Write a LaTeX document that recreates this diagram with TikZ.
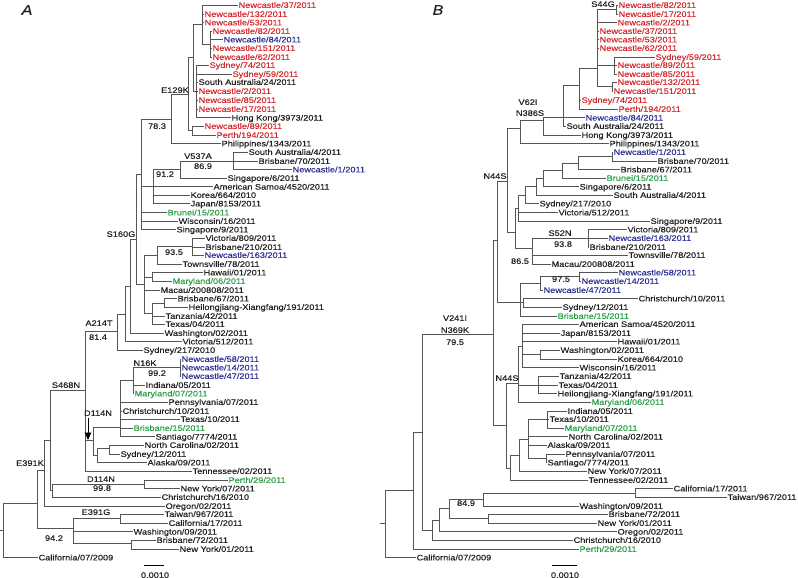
\documentclass[tikz,border=0pt]{standalone}
\usepackage{fontspec}
\setmainfont{Liberation Sans}[FakeStretch=1.15,FakeBold=0.35]
\usetikzlibrary{arrows.meta}
\definecolor{tred}{HTML}{D42A2F}
\definecolor{tblue}{HTML}{2E3192}
\definecolor{tgreen}{HTML}{2E9E48}
\definecolor{tblk}{HTML}{222222}
\definecolor{brc}{HTML}{555555}
\newcommand{\mkleaf}[5]{\node[lab,text=#4] (#1) at (#2,#3) {#5};}
\newcommand{\kids}[2]{\foreach \k in {#2}{\draw[br] (#1) |- (\k);}}
\begin{document}
\begin{tikzpicture}[x=1pt,y=-1pt,
  lab/.style={anchor=west,inner sep=0.4pt,text height=5.8pt,text depth=0pt,font=\fontsize{8}{9}\selectfont},
  mut/.style={inner sep=0.4pt,text height=5.8pt,text depth=0pt,text=tblk,font=\fontsize{8}{9}\selectfont},
  br/.style={draw=brc,line width=0.6pt},
  panel/.style={font=\fontsize{14}{14}\selectfont\itshape,text=tblk,inner sep=0pt}]
\useasboundingbox (0,0) rectangle (798,578);
\node[panel] (pA) at (27,10) {A};
\node[panel] (pB) at (438,10) {B};
% ---------------- Panel A leaves
\mkleaf{A1}{238}{5}{tred}{Newcastle/37/2011}
\mkleaf{A2}{204}{14}{tred}{Newcastle/132/2011}
\mkleaf{A3}{204}{22.5}{tred}{Newcastle/53/2011}
\mkleaf{A4}{212}{31}{tred}{Newcastle/82/2011}
\mkleaf{A5}{223}{39.5}{tblue}{Newcastle/84/2011}
\mkleaf{A6}{212}{48}{tred}{Newcastle/151/2011}
\mkleaf{A7}{212}{57}{tred}{Newcastle/62/2011}
\mkleaf{A8}{209}{65}{tred}{Sydney/74/2011}
\mkleaf{A9}{232}{74}{tred}{Sydney/59/2011}
\mkleaf{A10}{198}{82}{tblk}{South Australia/24/2011}
\mkleaf{A11}{198}{91}{tred}{Newcastle/2/2011}
\mkleaf{A12}{198}{100}{tred}{Newcastle/85/2011}
\mkleaf{A13}{198}{109}{tred}{Newcastle/17/2011}
\mkleaf{A14}{231}{117.7}{tblk}{Hong Kong/3973/2011}
\mkleaf{A15}{204}{126}{tred}{Newcastle/89/2011}
\mkleaf{A16}{216}{135}{tred}{Perth/194/2011}
\mkleaf{A17}{221}{143.5}{tblk}{Philippines/1343/2011}
\mkleaf{A18}{248}{152}{tblk}{South Australia/4/2011}
\mkleaf{A19}{258}{161}{tblk}{Brisbane/70/2011}
\mkleaf{A20}{292}{169.5}{tblue}{Newcastle/1/2011}
\mkleaf{A21}{227}{178}{tblk}{Singapore/6/2011}
\mkleaf{A22}{213}{186.7}{tblk}{American Samoa/4520/2011}
\mkleaf{A23}{190}{195}{tblk}{Korea/664/2010}
\mkleaf{A24}{190}{203.5}{tblk}{Japan/8153/2011}
\mkleaf{A25}{167}{212.5}{tgreen}{Brunei/15/2011}
\mkleaf{A26}{178}{221}{tblk}{Wisconsin/16/2011}
\mkleaf{A27}{176}{229.5}{tblk}{Singapore/9/2011}
\mkleaf{A28}{205}{238}{tblk}{Victoria/809/2011}
\mkleaf{A29}{205}{247}{tblk}{Brisbane/210/2011}
\mkleaf{A30}{204}{255}{tblue}{Newcastle/163/2011}
\mkleaf{A31}{182}{264}{tblk}{Townsville/78/2011}
\mkleaf{A32}{203}{272.5}{tblk}{Hawaii/01/2011}
\mkleaf{A33}{172}{281}{tgreen}{Maryland/06/2011}
\mkleaf{A34}{160}{290}{tblk}{Macau/200808/2011}
\mkleaf{A35}{177}{298.5}{tblk}{Brisbane/67/2011}
\mkleaf{A36}{188}{307}{tblk}{Heilongjiang-Xiangfang/191/2011}
\mkleaf{A37}{165}{316}{tblk}{Tanzania/42/2011}
\mkleaf{A38}{165}{324}{tblk}{Texas/04/2011}
\mkleaf{A39}{164}{333}{tblk}{Washington/02/2011}
\mkleaf{A40}{182}{341.5}{tblk}{Victoria/512/2011}
\mkleaf{A41}{143}{350}{tblk}{Sydney/217/2010}
\mkleaf{A42}{181}{359}{tblue}{Newcastle/58/2011}
\mkleaf{A43}{181}{367.5}{tblue}{Newcastle/14/2011}
\mkleaf{A44}{181}{376}{tblue}{Newcastle/47/2011}
\mkleaf{A45}{145}{385}{tblk}{Indiana/05/2011}
\mkleaf{A46}{134}{393.5}{tgreen}{Maryland/07/2011}
\mkleaf{A47}{168}{402}{tblk}{Pennsylvania/07/2011}
\mkleaf{A48}{122}{411}{tblk}{Christchurch/10/2011}
\mkleaf{A49}{180}{419}{tblk}{Texas/10/2011}
\mkleaf{A50}{133}{428}{tgreen}{Brisbane/15/2011}
\mkleaf{A51}{155}{436.7}{tblk}{Santiago/7774/2011}
\mkleaf{A52}{144}{445}{tblk}{North Carolina/02/2011}
\mkleaf{A53}{120}{454}{tblk}{Sydney/12/2011}
\mkleaf{A54}{147}{462.5}{tblk}{Alaska/09/2011}
\mkleaf{A55}{192}{471}{tblk}{Tennessee/02/2011}
\mkleaf{A56}{228}{480}{tgreen}{Perth/29/2011}
\mkleaf{A57}{180}{488.5}{tblk}{New York/07/2011}
\mkleaf{A58}{161}{497}{tblk}{Christchurch/16/2010}
\mkleaf{A59}{165}{506}{tblk}{Oregon/02/2011}
\mkleaf{A60}{164}{514}{tblk}{Taiwan/967/2011}
\mkleaf{A61}{168}{523}{tblk}{California/17/2011}
\mkleaf{A62}{133}{531.7}{tblk}{Washington/09/2011}
\mkleaf{A63}{156}{540}{tblk}{Brisbane/72/2011}
\mkleaf{A64}{179}{549}{tblk}{New York/01/2011}
\mkleaf{A65}{38}{557.5}{tblk}{California/07/2009}
% ---------------- Panel A internal nodes
\coordinate (aN2) at (210,44);
\coordinate (aN1) at (202,24);
\coordinate (aN3) at (196,91);
\coordinate (aN4) at (193,57);
\coordinate (aN5) at (192,130.5);
\coordinate (aE129) at (188,94);
\coordinate (a78) at (171,119);
\coordinate (aV2) at (233,161);
\coordinate (aV) at (180,169.5);
\coordinate (a91) at (153,186.5);
\coordinate (aTop) at (141,174);
\coordinate (a192) at (192,246.5);
\coordinate (a935) at (157,255);
\coordinate (aHM) at (152,277);
\coordinate (aBH) at (164,303);
\coordinate (aTT) at (152,313);
\coordinate (aMid) at (144,284);
\coordinate (aS160) at (136,239);
\coordinate (a130) at (130,286);
\coordinate (a125) at (125,314);
\coordinate (aA214) at (117,331);
\coordinate (aN16) at (180,367.5);
\coordinate (a133) at (133,380);
\coordinate (aUp) at (120,427);
\coordinate (aNS) at (109,448);
\coordinate (aLow) at (97,455);
\coordinate (a93) at (93,440);
\coordinate (a85) at (85,390);
\coordinate (aPN) at (144,484);
\coordinate (a52) at (52,490);
\coordinate (a50) at (50,440);
\coordinate (a44) at (44,470);
\coordinate (aE391G) at (120,518);
\coordinate (aBN) at (131,543);
\coordinate (a73) at (73,528);
\coordinate (a37) at (37,503);
\coordinate (aRoot) at (3,530);
\coordinate (aStub) at (0,530);
\kids{aN2}{A4,A5,A6,A7}
\kids{aN1}{A1,A2,A3,aN2}
\kids{aN3}{A8,A9,A10,A11,A12,A13,A14}
\kids{aN4}{aN1,aN3}
\kids{aN5}{A15,A16}
\kids{aE129}{aN4,aN5}
\kids{a78}{aE129,A17}
\kids{aV2}{A18,A19,A20}
\kids{aV}{aV2,A21}
\kids{a91}{aV,A22,A23,A24}
\kids{aTop}{a78,a91,A25,A26,A27}
\kids{a192}{A28,A29,A30}
\kids{a935}{a192,A31}
\kids{aHM}{A32,A33}
\kids{aBH}{A35,A36}
\kids{aTT}{aBH,A37,A38}
\kids{aMid}{a935,aHM,A34,aTT}
\kids{aS160}{aTop,aMid}
\kids{a130}{aS160,A39}
\kids{a125}{a130,A40}
\kids{aA214}{a125,A41}
\kids{aN16}{A42,A43,A44}
\kids{a133}{aN16,A45,A46}
\kids{aUp}{a133,A47,A48,A49,A50,A51}
\kids{aNS}{A52,A53}
\kids{aLow}{aNS,A54}
\kids{a93}{aUp,aLow}
\kids{a85}{aA214,a93,A55}
\kids{aPN}{A56,A57}
\kids{a52}{aPN,A58}
\kids{a50}{a85,a52}
\kids{a44}{a50,A59}
\kids{aE391G}{A60,A61}
\kids{aBN}{A63,A64}
\kids{a73}{aE391G,A62,aBN}
\kids{a37}{a44,a73}
\kids{aRoot}{a37,A65}
\draw[br] (aStub) -- (aRoot);
% Panel A annotations
\node[mut] (mA1) at (175,90) {E129K};
\node[mut] (mA2) at (157,126) {78.3};
\node[mut] (mA3) at (198,156) {V537A};
\node[mut] (mA4) at (203,166) {86.9};
\node[mut] (mA5) at (165,174) {91.2};
\node[mut] (mA6) at (121,234) {S160G};
\node[mut] (mA7) at (174,252) {93.5};
\node[mut] (mA8) at (99,323) {A214T};
\node[mut] (mA9) at (98,337) {81.4};
\node[mut] (mA10) at (145,363) {N16K};
\node[mut] (mA11) at (157,373) {99.2};
\node[mut] (mA12) at (66,385) {S468N};
\node[mut] (mA13) at (98,413) {D114N};
\node[mut] (mA14) at (30,463) {E391K};
\node[mut] (mA15) at (101,479) {D114N};
\node[mut] (mA16) at (102,488) {99.8};
\node[mut] (mA17) at (96,512) {E391G};
\node[mut] (mA18) at (54,538) {94.2};
\coordinate (arrS) at (88,418);
\coordinate (arrE) at (88,440);
\draw[-{Triangle[width=6.5pt,length=7.5pt]},line width=0.9pt,draw=black,fill=black] (arrS) -- (arrE);
\coordinate (sbA1) at (144,565);
\coordinate (sbA2) at (164,565);
\draw[line width=0.9pt,black] (sbA1) -- (sbA2);
\node[mut] (sbAt) at (155,575) {0.0010};
% ---------------- Panel B leaves
\mkleaf{B1}{618}{5}{tred}{Newcastle/82/2011}
\mkleaf{B2}{618}{14}{tred}{Newcastle/17/2011}
\mkleaf{B3}{617}{22.5}{tred}{Newcastle/2/2011}
\mkleaf{B4}{599}{31}{tred}{Newcastle/37/2011}
\mkleaf{B5}{599}{39.5}{tred}{Newcastle/53/2011}
\mkleaf{B6}{599}{48}{tred}{Newcastle/62/2011}
\mkleaf{B7}{655}{57}{tred}{Sydney/59/2011}
\mkleaf{B8}{617}{65}{tred}{Newcastle/89/2011}
\mkleaf{B9}{617}{74}{tred}{Newcastle/85/2011}
\mkleaf{B10}{617}{82}{tred}{Newcastle/132/2011}
\mkleaf{B11}{613}{91}{tred}{Newcastle/151/2011}
\mkleaf{B12}{581}{100}{tred}{Sydney/74/2011}
\mkleaf{B13}{618}{109}{tred}{Perth/194/2011}
\mkleaf{B14}{585}{117.7}{tblue}{Newcastle/84/2011}
\mkleaf{B15}{566}{126}{tblk}{South Australia/24/2011}
\mkleaf{B16}{581}{135}{tblk}{Hong Kong/3973/2011}
\mkleaf{B17}{609}{143.5}{tblk}{Philippines/1343/2011}
\mkleaf{B18}{613}{152}{tblue}{Newcastle/1/2011}
\mkleaf{B19}{657}{161}{tblk}{Brisbane/70/2011}
\mkleaf{B20}{620}{169.5}{tblk}{Brisbane/67/2011}
\mkleaf{B21}{606}{178}{tgreen}{Brunei/15/2011}
\mkleaf{B22}{579}{186.7}{tblk}{Singapore/6/2011}
\mkleaf{B23}{613}{195}{tblk}{South Australia/4/2011}
\mkleaf{B24}{539}{203.5}{tblk}{Sydney/217/2010}
\mkleaf{B25}{558}{212.5}{tblk}{Victoria/512/2011}
\mkleaf{B26}{650}{221}{tblk}{Singapore/9/2011}
\mkleaf{B27}{627}{229.5}{tblk}{Victoria/809/2011}
\mkleaf{B28}{608}{238}{tblue}{Newcastle/163/2011}
\mkleaf{B29}{589}{247}{tblk}{Brisbane/210/2011}
\mkleaf{B30}{628}{255}{tblk}{Townsville/78/2011}
\mkleaf{B31}{551}{264}{tblk}{Macau/200808/2011}
\mkleaf{B32}{618}{272.5}{tblue}{Newcastle/58/2011}
\mkleaf{B33}{581}{281}{tblue}{Newcastle/14/2011}
\mkleaf{B34}{543}{290}{tblue}{Newcastle/47/2011}
\mkleaf{B35}{638}{298.5}{tblk}{Christchurch/10/2011}
\mkleaf{B36}{562}{307}{tblk}{Sydney/12/2011}
\mkleaf{B37}{557}{316}{tgreen}{Brisbane/15/2011}
\mkleaf{B38}{579}{324}{tblk}{American Samoa/4520/2011}
\mkleaf{B39}{560}{333}{tblk}{Japan/8153/2011}
\mkleaf{B40}{617}{341.5}{tblk}{Hawaii/01/2011}
\mkleaf{B41}{560}{350}{tblk}{Washington/02/2011}
\mkleaf{B42}{617}{359}{tblk}{Korea/664/2010}
\mkleaf{B43}{579}{367.5}{tblk}{Wisconsin/16/2011}
\mkleaf{B44}{559}{376}{tblk}{Tanzania/42/2011}
\mkleaf{B45}{558}{385}{tblk}{Texas/04/2011}
\mkleaf{B46}{557}{393.5}{tblk}{Heilongjiang-Xiangfang/191/2011}
\mkleaf{B47}{591}{402}{tgreen}{Maryland/06/2011}
\mkleaf{B48}{567}{411}{tblk}{Indiana/05/2011}
\mkleaf{B49}{549}{419}{tblk}{Texas/10/2011}
\mkleaf{B50}{564}{428}{tgreen}{Maryland/07/2011}
\mkleaf{B51}{568}{436.7}{tblk}{North Carolina/02/2011}
\mkleaf{B52}{547}{445}{tblk}{Alaska/09/2011}
\mkleaf{B53}{565}{454}{tblk}{Pennsylvania/07/2011}
\mkleaf{B54}{547}{462.5}{tblk}{Santiago/7774/2011}
\mkleaf{B55}{587}{471}{tblk}{New York/07/2011}
\mkleaf{B56}{588}{480}{tblk}{Tennessee/02/2011}
\mkleaf{B57}{673}{488.5}{tblk}{California/17/2011}
\mkleaf{B58}{727}{497}{tblk}{Taiwan/967/2011}
\mkleaf{B59}{579}{506}{tblk}{Washington/09/2011}
\mkleaf{B60}{608}{514}{tblk}{Brisbane/72/2011}
\mkleaf{B61}{597}{523}{tblk}{New York/01/2011}
\mkleaf{B62}{617}{531.7}{tblk}{Oregon/02/2011}
\mkleaf{B63}{573}{540}{tblk}{Christchurch/16/2010}
\mkleaf{B64}{579}{549}{tgreen}{Perth/29/2011}
\mkleaf{B65}{416}{557.5}{tblk}{California/07/2009}
% ---------------- Panel B internal nodes
\coordinate (bN82) at (616,9.5);
\coordinate (bSyd) at (614,65);
\coordinate (b132) at (612,86.5);
\coordinate (bRed) at (597,68);
\coordinate (b579) at (579,85);
\coordinate (b563) at (563,117);
\coordinate (b543) at (543,120);
\coordinate (b520) at (520,128);
\coordinate (bN1) at (612,156);
\coordinate (bB67) at (578,163);
\coordinate (bBru) at (562,170);
\coordinate (bSg6) at (543,178);
\coordinate (bSA4) at (536,186);
\coordinate (bS217) at (525,195);
\coordinate (bVic) at (518,208);
\coordinate (bV809) at (588,238);
\coordinate (bS52) at (532,248);
\coordinate (bUp) at (515,232);
\coordinate (bN44a) at (507,181);
\coordinate (b58) at (579,276);
\coordinate (b975) at (540,283);
\coordinate (bCS) at (523,302);
\coordinate (b520b) at (520,302);
\coordinate (b497) at (497,240);
\coordinate (bWK) at (540,354.5);
\coordinate (bAS) at (522,346);
\coordinate (bTT) at (538,385);
\coordinate (bN44b) at (518,383);
\coordinate (bInd) at (547,419);
\coordinate (bPS) at (546,458);
\coordinate (bNC) at (528,439);
\coordinate (bNY) at (519,455);
\coordinate (bTen) at (510,468);
\coordinate (bLow) at (506,425);
\coordinate (b493) at (493,334);
\coordinate (bCT) at (635,493);
\coordinate (b483) at (483,499);
\coordinate (bBNy) at (488,518);
\coordinate (b849) at (449,508);
\coordinate (bOr) at (439,520);
\coordinate (bBot) at (432,530);
\coordinate (b422) at (422,432);
\coordinate (b413) at (413,490);
\coordinate (bRoot) at (385,523);
\coordinate (bStub) at (380,523);
\kids{bN82}{B1,B2}
\kids{bSyd}{B7,B8,B9}
\kids{b132}{B10,B11}
\kids{bRed}{bN82,B3,B4,B5,B6,bSyd,b132}
\kids{b579}{bRed,B12,B13}
\kids{b563}{b579,B14,B15}
\kids{b543}{b563,B16}
\kids{b520}{b543,B17}
\kids{bN1}{B18,B19}
\kids{bB67}{bN1,B20}
\kids{bBru}{bB67,B21}
\kids{bSg6}{bBru,B22}
\kids{bSA4}{bSg6,B23}
\kids{bS217}{bSA4,B24}
\kids{bVic}{bS217,B25,B26}
\kids{bV809}{B27,B28,B29}
\kids{bS52}{bV809,B30,B31}
\kids{bUp}{bVic,bS52}
\kids{bN44a}{b520,bUp}
\kids{b58}{B32,B33}
\kids{b975}{b58,B34}
\kids{bCS}{B35,B36}
\kids{b520b}{b975,bCS,B37}
\kids{b497}{bN44a,b520b}
\kids{bWK}{B41,B42}
\kids{bAS}{B38,B39,B40,bWK,B43}
\kids{bTT}{B44,B45,B46}
\kids{bN44b}{bAS,bTT,B47}
\kids{bInd}{B48,B49,B50}
\kids{bPS}{B53,B54}
\kids{bNC}{bInd,B51,B52,bPS}
\kids{bNY}{bNC,B55}
\kids{bTen}{bNY,B56}
\kids{bLow}{bN44b,bTen}
\kids{b493}{b497,bLow}
\kids{bCT}{B57,B58}
\kids{b483}{bCT,B59}
\kids{bBNy}{B60,B61}
\kids{b849}{b483,bBNy}
\kids{bOr}{b849,B62}
\kids{bBot}{bOr,B63}
\kids{b422}{b493,bBot}
\kids{b413}{b422,B64}
\kids{bRoot}{b413,B65}
\draw[br] (bStub) -- (bRoot);
% Panel B annotations
\node[mut] (mB1) at (603,4) {S44G};
\node[mut] (mB2) at (528,102) {V62I};
\node[mut] (mB3) at (530,113) {N386S};
\node[mut] (mB4) at (495,176) {N44S};
\node[mut] (mB5) at (560,233) {S52N};
\node[mut] (mB6) at (563,244) {93.8};
\node[mut] (mB7) at (520,261) {86.5};
\node[mut] (mB8) at (561,279) {97.5};
\node[mut] (mB9) at (455,318) {V241I};
\node[mut] (mB10) at (455,330) {N369K};
\node[mut] (mB11) at (455,342) {79.5};
\node[mut] (mB12) at (507,378) {N44S};
\node[mut] (mB13) at (466,503) {84.9};
\coordinate (sbB1) at (552,565);
\coordinate (sbB2) at (577,565);
\draw[line width=0.9pt,black] (sbB1) -- (sbB2);
\node[mut] (sbBt) at (565,575) {0.0010};
\end{tikzpicture}
\end{document}
